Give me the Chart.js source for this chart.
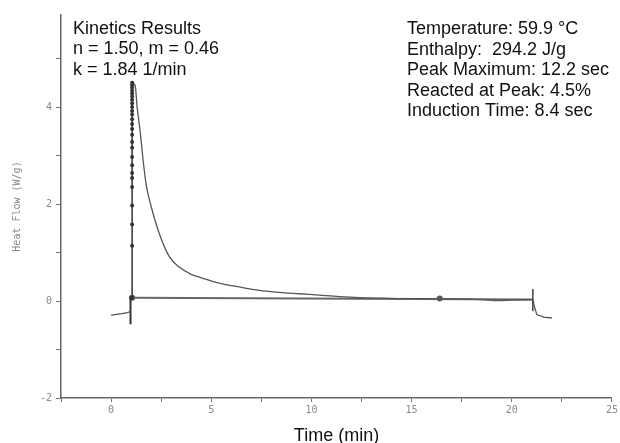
<!DOCTYPE html>
<html>
<head>
<meta charset="utf-8">
<title>Kinetics Results</title>
<script src="https://cdn.jsdelivr.net/npm/chart.js@4.4.0/dist/chart.umd.min.js"></script>
<style>
  html, body { margin:0; padding:0; background:#fff; }
  #wrap { width:620px; height:443px; }
</style>
</head>
<body>
<div id="wrap"><canvas id="chart"></canvas></div>
<script>
// Heat flow trace (time in min, heat flow in W/g)

// signal before the run starts
const preTime = [0, 0.55, 0.8, 0.97];
const preFlow = [-0.29, -0.26, -0.24, -0.22];

// start marker (vertical stroke)
const startTime = [0.97, 0.97];
const startFlow = [-0.48, 0.1];

// fast rise, sampled points all at the same time
const riseTime = 1.05;
const riseFlow = [0.07, 1.14, 1.58, 1.97, 2.35, 2.54, 2.64, 2.8, 2.97, 3.16, 3.28, 3.43,
                  3.55, 3.65, 3.75, 3.85, 3.92, 4.0, 4.08, 4.15, 4.22, 4.28, 4.34, 4.4, 4.45, 4.5];

// decay after the peak
const decayTime = [1.05, 1.2, 1.3, 1.45, 1.6, 1.75, 2.0, 2.4, 2.9, 3.4, 4.0, 4.5, 5.4, 6.4, 7.4,
                   8.4, 9.4, 10.4, 11.4, 12.4, 13.5, 15, 16.4, 17.5, 18.5, 19.3, 20, 21.05];
const decayFlow = [4.5, 4.45, 4.0, 3.5, 2.9, 2.4, 1.95, 1.4, 0.92, 0.7, 0.55, 0.48, 0.37, 0.29, 0.22,
                   0.18, 0.15, 0.12, 0.09, 0.07, 0.06, 0.05, 0.05, 0.04, 0.03, 0.01, 0.02, 0.03];

// integration baseline and its marked points
const baseTime = [1.05, 21.05];
const baseFlow = [0.07, 0.03];
const markTime = [1.05, 16.4];
const markFlow = [0.07, 0.05];

// end marker and trailing signal
const endTime = [21.05, 21.05];
const endFlow = [0.25, -0.21];
const tailTime = [21.05, 21.15, 21.25, 21.6, 22.0];
const tailFlow = [0.03, -0.15, -0.28, -0.33, -0.35];

// axis ticks
const xLabelTicks = [0, 5, 10, 15, 20, 25];
const yLabelTicks = [-2, 0, 2, 4];

// annotation text
const kineticsLines = ['Kinetics Results', 'n = 1.50, m = 0.46', 'k = 1.84 1/min'];
const resultLines = ['Temperature: 59.9 \u00B0C', 'Enthalpy:  294.2 J/g', 'Peak Maximum: 12.2 sec',
                     'Reacted at Peak: 4.5%', 'Induction Time: 8.4 sec'];

function pts(xs, ys){
  return ys.map((y, i) => ({ x: Array.isArray(xs) ? xs[i] : xs, y }));
}

const line = (data, color, width, extra) => Object.assign({
  data, showLine: true, borderColor: color, borderWidth: width,
  pointRadius: 0, fill: false, tension: 0
}, extra || {});

const notesPlugin = {
  id: 'notes',
  afterDraw(chart){
    const ctx = chart.ctx;
    ctx.save();
    ctx.font = '18px "Liberation Sans", Arial, sans-serif';
    ctx.fillStyle = '#111';
    ctx.textBaseline = 'alphabetic';
    kineticsLines.forEach((s, i) => ctx.fillText(s, 73, 34 + i * 20.3));
    resultLines.forEach((s, i) => ctx.fillText(s, 407, 34 + i * 20.5));
    ctx.restore();
  }
};

const tickFont = { family: '"DejaVu Sans Mono", monospace', size: 10 };

new Chart(document.getElementById('chart'), {
  type: 'scatter',
  data: {
    datasets: [
      line(pts(preTime, preFlow), '#555', 1.3),
      line(pts(startTime, startFlow), '#333', 2),
      line(pts(riseTime, riseFlow), '#333', 1.5, { pointRadius: 2, pointBackgroundColor: '#333', pointBorderWidth: 0 }),
      line(pts(decayTime, decayFlow), '#555', 1.3, { cubicInterpolationMode: 'monotone' }),
      line(pts(baseTime, baseFlow), '#666', 2),
      { data: pts(markTime, markFlow), pointRadius: 3, pointBackgroundColor: '#555', pointBorderWidth: 0 },
      line(pts(endTime, endFlow), '#444', 1.5),
      line(pts(tailTime, tailFlow), '#555', 1.3)
    ]
  },
  options: {
    responsive: true,
    maintainAspectRatio: false,
    animation: false,
    devicePixelRatio: 1,
    layout: { padding: { top: 15, right: 7, left: 0, bottom: 0 } },
    plugins: { legend: { display: false }, tooltip: { enabled: false } },
    scales: {
      x: {
        type: 'linear', min: -2.5, max: 25,
        afterFit: s => { s.height = 45; },
        border: { display: true, color: '#666', width: 1.5 },
        grid: { drawOnChartArea: false, drawTicks: true, tickLength: 4, color: '#777' },
        ticks: {
          stepSize: 2.5, includeBounds: false, color: '#888', font: tickFont, padding: 2, maxRotation: 0,
          callback: v => xLabelTicks.includes(v) ? String(v) : ''
        },
        title: { display: true, text: 'Time (min)', color: '#111',
                 font: { family: '"Liberation Sans", Arial, sans-serif', size: 18 }, padding: { top: 0, bottom: -4 } }
      },
      y: {
        type: 'linear', min: -2, max: 5.9,
        afterFit: s => { s.width = 61; },
        border: { display: true, color: '#666', width: 1.5 },
        grid: { drawOnChartArea: false, drawTicks: true, tickLength: 5, color: '#777' },
        ticks: {
          stepSize: 1, includeBounds: false, color: '#888', font: tickFont, padding: 4,
          callback: v => yLabelTicks.includes(v) ? String(v) : ''
        },
        title: { display: true, text: 'Heat Flow (W/g)', color: '#888',
                 font: { family: '"DejaVu Sans Mono", monospace', size: 10 }, padding: { top: 11, bottom: 0 } }
      }
    }
  },
  plugins: [notesPlugin]
});
</script>
</body>
</html>
